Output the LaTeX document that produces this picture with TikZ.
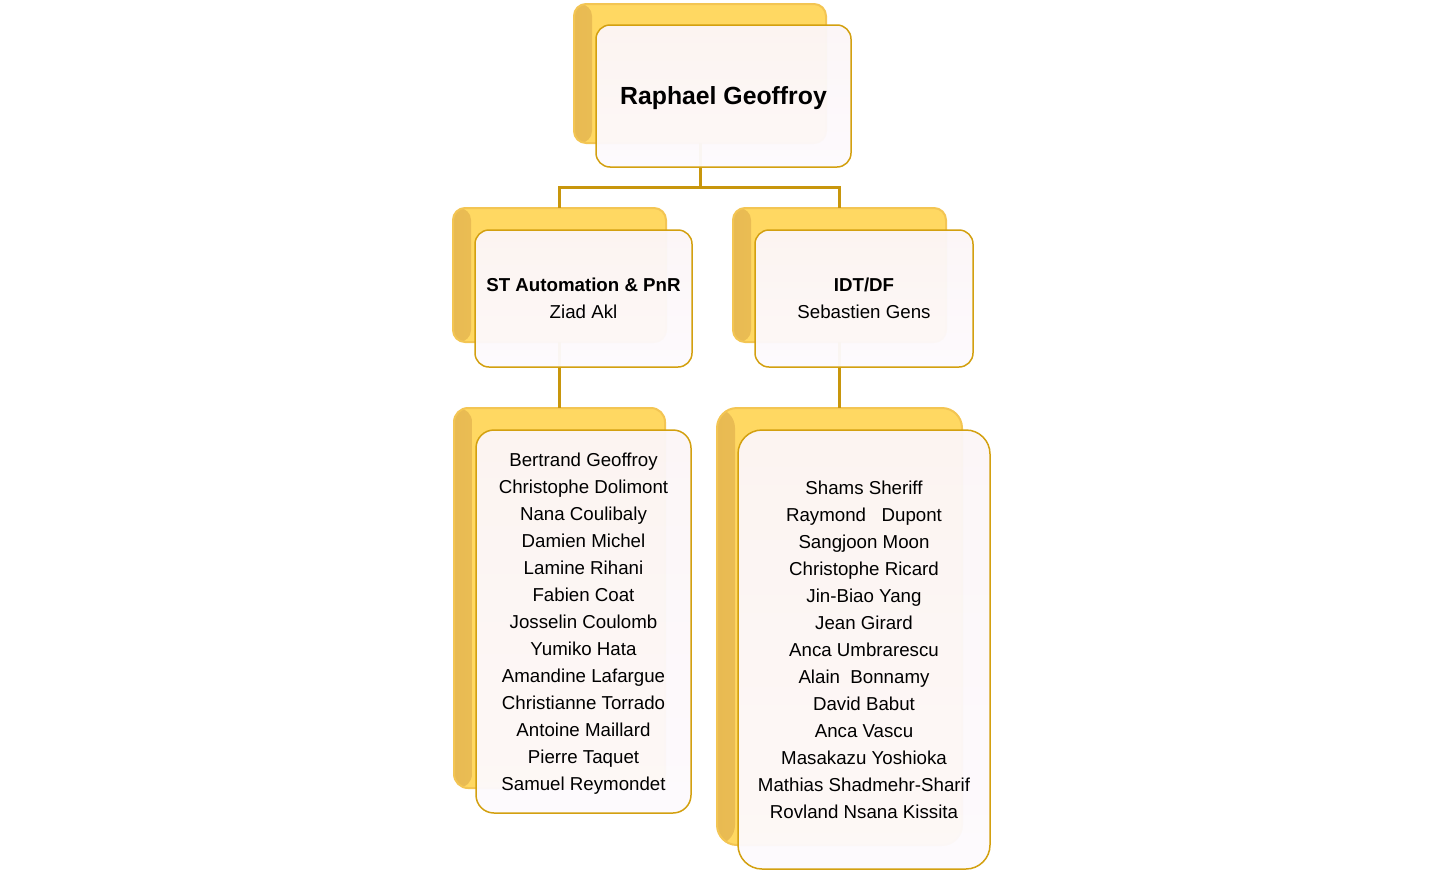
\documentclass[tikz,border=0pt]{standalone}
\usepackage{fontspec}
\setmainfont{Liberation Sans}
\usetikzlibrary{calc}
\definecolor{conncol}{HTML}{C8960C}
\definecolor{bordercol}{HTML}{D3A010}
\definecolor{shadowfill}{HTML}{FFD862}
\definecolor{shadowedge}{HTML}{F3C553}
\definecolor{shadowdark}{HTML}{E8BA52}
\definecolor{fronttop}{HTML}{FCF6F7}
\definecolor{frontbot}{HTML}{FDFAFD}
\tikzset{
  shadowbox/.style={fill=shadowfill, draw=shadowedge, line width=2pt,
    path picture={\fill[left color=shadowdark, right color=shadowfill]
      (path picture bounding box.south west) rectangle ([xshift=18pt]path picture bounding box.north west);}},
  frontbox/.style={top color=fronttop, bottom color=frontbot, fill opacity=0.96,
    draw=bordercol, line width=1.5pt},
  conn/.style={draw=conncol, line width=3pt},
  txt/.style={align=center, font=\fontsize{18.7}{27}\selectfont, text=black}
}
\begin{document}
\begin{tikzpicture}[x=1pt,y=-1pt]
\useasboundingbox (0,0) rectangle (1441,873);
% shadows
\draw[shadowbox, rounded corners=12pt] (574,4) rectangle (826,143);
\node[inner sep=0, minimum width=252pt, minimum height=139pt] (s0) at (700,73.5) {};
\draw[shadowbox, rounded corners=12pt] (453,208) rectangle (666,342);
\node[inner sep=0, minimum width=213pt, minimum height=134pt] (s1) at (559.5,275) {};
\draw[shadowbox, rounded corners=12pt] (733,208) rectangle (946,342);
\node[inner sep=0, minimum width=213pt, minimum height=134pt] (s2) at (839.5,275) {};
\draw[shadowbox, rounded corners=14pt] (454,408) rectangle (665,788);
\node[inner sep=0, minimum width=211pt, minimum height=380pt] (s3) at (559.5,598) {};
\draw[shadowbox, rounded corners=20pt] (717,408) rectangle (962,845);
\node[inner sep=0, minimum width=245pt, minimum height=437pt] (s4) at (839.5,626.5) {};
% connectors
\coordinate (bus) at (700,187);
\draw[conn] (s0.south) -- (bus) -| (s1.north);
\draw[conn] (bus) -| (s2.north);
\draw[conn] (s1.south) -- (s3.north);
\draw[conn] (s2.south) -- (s4.north);
% fronts
\draw[frontbox, rounded corners=14pt] (596,25) rectangle (851,167);
\node[txt, font=\fontsize{24.8}{30}\selectfont\bfseries] (f0) at (723.5,98) {Raphael Geoffroy};
\draw[frontbox, rounded corners=14pt] (475,230) rectangle (692,367);
\node[txt] (f1) at (583.5,298) {\textbf{ST Automation \& PnR}\\Ziad Akl};
\draw[frontbox, rounded corners=14pt] (755,230) rectangle (973,367);
\node[txt] (f2) at (864,298) {\textbf{IDT/DF}\\Sebastien Gens};
\draw[frontbox, rounded corners=18pt] (476,430) rectangle (691,813);
\node[txt] (f3) at (583.5,623.5) {Bertrand Geoffroy\\Christophe Dolimont\\Nana Coulibaly\\Damien Michel\\Lamine Rihani\\Fabien Coat\\Josselin Coulomb\\Yumiko Hata\\Amandine Lafargue\\Christianne Torrado\\Antoine Maillard\\Pierre Taquet\\Samuel Reymondet};
\draw[frontbox, rounded corners=24pt] (738,430) rectangle (990,869);
\node[txt] (f4) at (864,650) {Shams Sheriff\\Raymond\ \ \ Dupont\\Sangjoon Moon\\Christophe Ricard\\Jin-Biao Yang\\Jean Girard\\Anca Umbrarescu\\Alain\ \ Bonnamy\\David Babut\\Anca Vascu\\Masakazu Yoshioka\\Mathias Shadmehr-Sharif\\Rovland Nsana Kissita};
\end{tikzpicture}
\end{document}
